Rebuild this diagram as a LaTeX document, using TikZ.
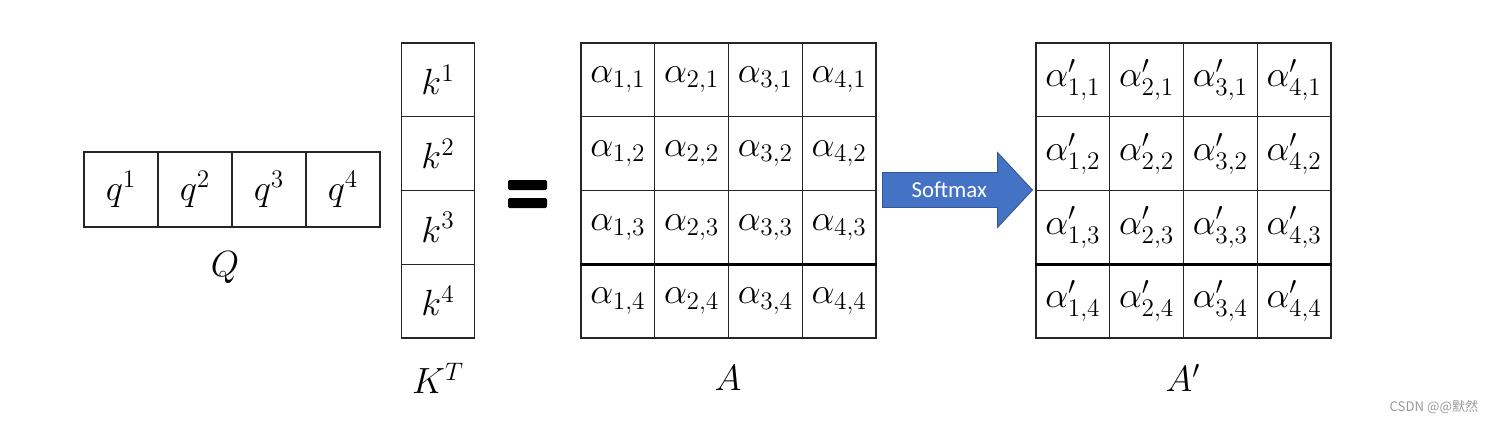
\documentclass[tikz,border=0pt]{standalone}
\usepackage{fontspec}
\newfontfamily\btnfont{Carlito}
\newfontfamily\cjkfont{Noto Sans CJK SC}
\usetikzlibrary{shapes.arrows}
\definecolor{arrowblue}{HTML}{4472C4}

\begin{document}
\begin{tikzpicture}[
  cell/.style={draw=black!85, line width=0.6pt, minimum width=1.475cm, minimum height=1.475cm, inner sep=0pt, font=\fontsize{22}{26}\selectfont},
  lbl/.style={font=\fontsize{22}{26}\selectfont},
  sepline/.style={line width=1.6pt}
]
\useasboundingbox (0,0) rectangle (29.82,-8.48);
\foreach \i in {1,...,4}
  \node[cell, minimum width=1.48cm, minimum height=1.5cm] (q\i) at ({1.68+(\i-0.5)*1.48},-3.79) {$q^{\i}$};
\node[lbl] (qlbl) at (4.50,-5.36) {$Q$};
\foreach \i in {1,...,4}
  \node[cell] (k\i) at (8.76,{-0.86-(\i-0.5)*1.475}) {$k^{\i}$};
\node[lbl] (klbl) at (8.76,-7.56) {$K^T$};
\fill[rounded corners=0.8pt] (10.16,-3.60) rectangle (10.94,-3.80);
\fill[rounded corners=0.8pt] (10.16,-3.96) rectangle (10.94,-4.16);
\foreach \r in {1,...,4}
  \foreach \c in {1,...,4}
    \node[cell] (a\c\r) at ({11.62+(\c-0.5)*1.475},{-0.86-(\r-0.5)*1.475}) {$\alpha_{\c,\r}$};
\draw[sepline] (a13.south west) -- (a43.south east);
\node[lbl] (albl) at (14.56,-7.56) {$A$};
\node[single arrow, fill=arrowblue, draw=arrowblue!75!black, line width=0.5pt, minimum width=1.5cm, minimum height=3.0cm, single arrow head extend=0.37cm, single arrow tip angle=94, inner xsep=2pt, inner ysep=4.5pt, text=white, font=\btnfont\fontsize{13}{15}\selectfont, anchor=tail] (smax) at (17.64,-3.80) {Softmax};
\foreach \r in {1,...,4}
  \foreach \c in {1,...,4}
    \node[cell] (b\c\r) at ({20.72+(\c-0.5)*1.475},{-0.86-(\r-0.5)*1.475}) {$\alpha'_{\c,\r}$};
\draw[sepline] (b13.south west) -- (b43.south east);
\node[lbl] (blbl) at (23.66,-7.56) {$A'$};
\node[text=black!40, font=\cjkfont\fontsize{7.5}{9}\selectfont] (mark) at (28.68,-8.14) {CSDN @@默然};
\end{tikzpicture}
\end{document}
